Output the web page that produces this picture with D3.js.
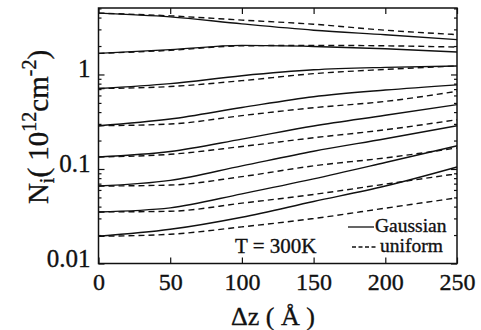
<!DOCTYPE html>
<html>
<head>
<meta charset="utf-8">
<script src="https://cdn.jsdelivr.net/npm/d3@7/dist/d3.min.js"></script>
<style>
  html, body { margin: 0; padding: 0; background: #fff; }
  svg { display: block; }
  text { font-family: "Liberation Serif", "Times New Roman", serif; fill: #111; stroke: #111; stroke-width: 0.35px; }
</style>
</head>
<body>
<svg id="chart" width="481" height="330"></svg>
<script>
// ---- data ----
const dz = [0, 50, 100, 150, 200, 250];
const xTickValues = [0, 50, 100, 150, 200, 250];
const xTickLabels = ["0", "50", "100", "150", "200", "250"];
const yTickValues = [0.01, 0.1, 1];
const yTickLabels = ["0.01", "0.1", "1"];
const legendLabels = ["Gaussian", "uniform"];
const tempLabel = "T = 300K";

// Gaussian distribution (solid), one array per subband curve
const gaussian = [
  [4.46, 4.07, 3.43, 2.94, 2.63, 2.34],
  [1.67, 1.83, 2.03, 1.98, 1.87, 1.73],
  [0.71, 0.80, 0.97, 1.12, 1.19, 1.23],
  [0.287, 0.338, 0.447, 0.582, 0.684, 0.777],
  [0.134, 0.153, 0.207, 0.285, 0.37, 0.48],
  [0.066, 0.0758, 0.108, 0.154, 0.209, 0.287],
  [0.0351, 0.0388, 0.0546, 0.0785, 0.117, 0.176],
  [0.0194, 0.023, 0.0309, 0.0453, 0.066, 0.105]
];
// uniform distribution (dashed)
const uniform = [
  [4.46, 4.17, 3.76, 3.40, 2.94, 2.64],
  [1.67, 1.80, 2.01, 2.03, 2.01, 1.95],
  [0.71, 0.745, 0.86, 1.02, 1.13, 1.23],
  [0.287, 0.299, 0.367, 0.445, 0.519, 0.664],
  [0.134, 0.143, 0.173, 0.214, 0.26, 0.332],
  [0.066, 0.0676, 0.083, 0.108, 0.131, 0.167],
  [0.0351, 0.0357, 0.0435, 0.0538, 0.0692, 0.0891],
  [0.0194, 0.0204, 0.0244, 0.0299, 0.0385, 0.0495]
];

// ---- layout ----
const L = 98.5, R = 457, T = 8, B = 263.5;
const svg = d3.select("#chart");
const x = d3.scaleLinear().domain([0, 250]).range([L, R]);
const y = d3.scaleLog().domain([0.01, 5.05]).range([B, T]);

const minorY = [];
for (let e = -2; e <= 0; e++) {
  for (let m = 2; m <= 9; m++) {
    const v = m * Math.pow(10, e);
    if (v < 5.05) minorY.push(v);
  }
}

const g = svg.append("g");

// curves
const line = d3.line().x((d, i) => x(dz[i])).y(d => y(d)).curve(d3.curveMonotoneX);
gaussian.forEach(s => {
  g.append("path").attr("d", line(s)).attr("fill", "none")
    .attr("stroke", "#111").attr("stroke-width", 1.4);
});
uniform.forEach(s => {
  g.append("path").attr("d", line(s)).attr("fill", "none")
    .attr("stroke", "#111").attr("stroke-width", 1.4).attr("stroke-dasharray", "6,4");
});

// axes
function styleAxis(sel) {
  sel.select(".domain").remove();
  sel.selectAll(".tick line").attr("stroke", "#111").attr("stroke-width", 1.2);
}
const xb = svg.append("g").attr("transform", `translate(0,${B})`)
  .call(d3.axisBottom(x).tickValues(xTickValues).tickSize(-6).tickPadding(9)
    .tickFormat((d, i) => xTickLabels[i]));
styleAxis(xb);
xb.selectAll("text").attr("font-size", 24).attr("fill", "#111")
  .style("font-family", "'Liberation Serif', serif");

const xt = svg.append("g").attr("transform", `translate(0,${T})`)
  .call(d3.axisTop(x).tickValues(xTickValues).tickSize(-6).tickFormat(""));
styleAxis(xt);

const yl = svg.append("g").attr("transform", `translate(${L},0)`)
  .call(d3.axisLeft(y).tickValues(yTickValues).tickSize(-6).tickPadding(8)
    .tickFormat((d, i) => yTickLabels[i]));
styleAxis(yl);
yl.selectAll("text").attr("font-size", 25).attr("fill", "#111").attr("dy", "0.1em")
  .style("font-family", "'Liberation Serif', serif");
const ylm = svg.append("g").attr("transform", `translate(${L},0)`)
  .call(d3.axisLeft(y).tickValues(minorY).tickSize(-3).tickFormat(""));
styleAxis(ylm);

const yr = svg.append("g").attr("transform", `translate(${R},0)`)
  .call(d3.axisRight(y).tickValues(yTickValues).tickSize(-6).tickFormat(""));
styleAxis(yr);
const yrm = svg.append("g").attr("transform", `translate(${R},0)`)
  .call(d3.axisRight(y).tickValues(minorY).tickSize(-3).tickFormat(""));
styleAxis(yrm);

// frame
svg.append("rect").attr("x", L).attr("y", T).attr("width", R - L).attr("height", B - T)
  .attr("fill", "none").attr("stroke", "#111").attr("stroke-width", 1.5);

// axis titles
const xl = svg.append("text").attr("x", 273).attr("y", 325).attr("text-anchor", "middle")
  .attr("font-size", 26);
xl.text("Δz ( Å )");

const ylab = svg.append("text").attr("transform", "translate(48,127) rotate(-90)")
  .attr("text-anchor", "middle").attr("font-size", 29);
ylab.append("tspan").text("N");
ylab.append("tspan").attr("font-size", 20).attr("dy", 6).text("i");
ylab.append("tspan").attr("dy", -6).text("( 10");
ylab.append("tspan").attr("font-size", 20).attr("dy", -12).text("12");
ylab.append("tspan").attr("dy", 12).text("cm");
ylab.append("tspan").attr("font-size", 20).attr("dy", -12).text("-2");
ylab.append("tspan").attr("dy", 12).text(")");

// annotation
svg.append("text").attr("x", 235).attr("y", 253).attr("font-size", 21).text(tempLabel);

// legend
svg.append("line").attr("x1", 348).attr("x2", 374).attr("y1", 227).attr("y2", 227)
  .attr("stroke", "#111").attr("stroke-width", 1.3);
svg.append("text").attr("x", 375).attr("y", 232).attr("font-size", 19.5).text(legendLabels[0]);
svg.append("line").attr("x1", 352).attr("x2", 377).attr("y1", 247).attr("y2", 247)
  .attr("stroke", "#111").attr("stroke-width", 1.3).attr("stroke-dasharray", "4,2.5");
svg.append("text").attr("x", 380).attr("y", 252).attr("font-size", 19.5).text(legendLabels[1]);
</script>
</body>
</html>
